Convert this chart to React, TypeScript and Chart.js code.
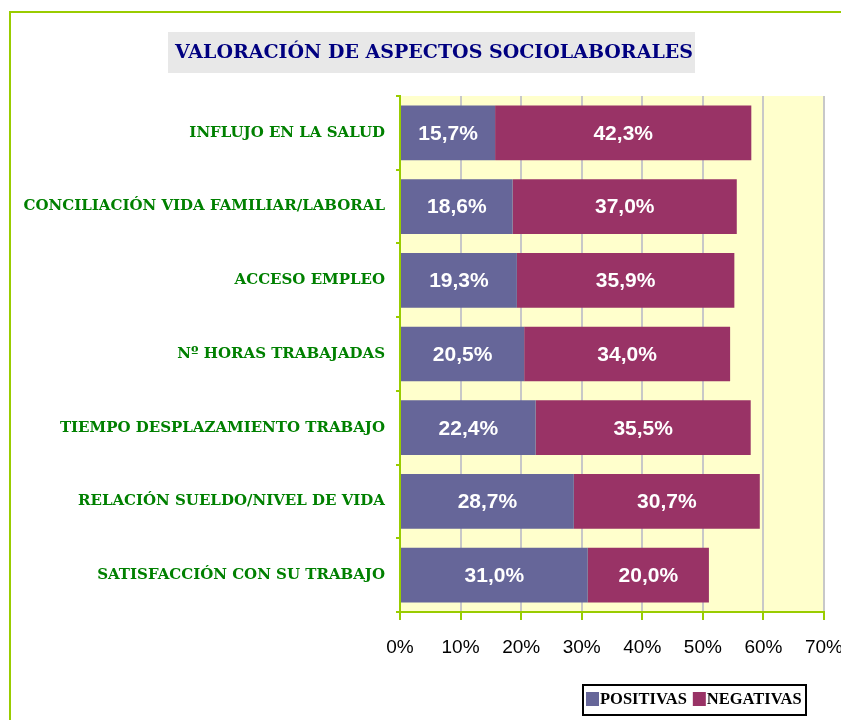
import React, { useEffect, useRef } from "react";
import { Chart, registerables } from "chart.js";

Chart.register(...registerables);

const title = "VALORACIÓN DE ASPECTOS SOCIOLABORALES";
const categories = [
  "INFLUJO EN LA SALUD",
  "CONCILIACIÓN VIDA FAMILIAR/LABORAL",
  "ACCESO EMPLEO",
  "Nº HORAS TRABAJADAS",
  "TIEMPO DESPLAZAMIENTO TRABAJO",
  "RELACIÓN SUELDO/NIVEL DE VIDA",
  "SATISFACCIÓN CON SU TRABAJO",
];
const seriesNames = ["POSITIVAS", "NEGATIVAS"];
const positivas = [15.7, 18.6, 19.3, 20.5, 22.4, 28.7, 31.0];
const negativas = [42.3, 37.0, 35.9, 34.0, 35.5, 30.7, 20.0];
const xTicks = [0, 10, 20, 30, 40, 50, 60, 70];

const COL_POS = "#666699";
const COL_NEG = "#993366";
const GREEN_LINE = "#99CC00";

const fmt = (v: number) => v.toFixed(1).replace(".", ",") + "%";

export default function App() {
  const ref = useRef<HTMLCanvasElement | null>(null);

  useEffect(() => {
    const canvas = ref.current;
    if (!canvas) return;

    const decor = {
      id: "decor",
      beforeDraw(chart: any) {
        const { ctx, chartArea } = chart;
        ctx.save();
        ctx.fillStyle = "#ffffff";
        ctx.fillRect(0, 0, chart.width, chart.height);
        ctx.fillStyle = "#FFFFCC";
        ctx.fillRect(chartArea.left, chartArea.top, chartArea.right - chartArea.left, chartArea.bottom - chartArea.top);
        // outer frame
        ctx.strokeStyle = GREEN_LINE;
        ctx.lineWidth = 2;
        ctx.beginPath();
        ctx.moveTo(10, chart.height);
        ctx.lineTo(10, 12);
        ctx.lineTo(chart.width, 12);
        ctx.stroke();
        ctx.restore();
      },
      afterDatasetsDraw(chart: any) {
        const { ctx } = chart;
        ctx.save();
        ctx.font = "bold 21px 'Liberation Sans', Arial, sans-serif";
        ctx.fillStyle = "#ffffff";
        ctx.textAlign = "center";
        ctx.textBaseline = "middle";
        chart.data.datasets.forEach((ds: any, di: number) => {
          const meta = chart.getDatasetMeta(di);
          meta.data.forEach((bar: any, i: number) => {
            const cx = (bar.x + bar.base) / 2;
            ctx.fillText(fmt(ds.data[i]), cx, bar.y + 1);
          });
        });
        ctx.restore();
      },
      afterDraw(chart: any) {
        const { ctx } = chart;
        ctx.save();
        // title box
        ctx.fillStyle = "#E8E8E8";
        ctx.fillRect(168, 32, 527, 41);
        ctx.fillStyle = "#000080";
        ctx.font = "bold 19px 'DejaVu Serif', serif";
        ctx.textAlign = "center";
        ctx.textBaseline = "middle";
        ctx.fillText(title, 434, 53);
        // legend
        ctx.strokeStyle = "#000000";
        ctx.lineWidth = 2;
        ctx.strokeRect(583, 685, 223, 30);
        ctx.font = "bold 16.5px 'Liberation Serif', 'Times New Roman', serif";
        ctx.textAlign = "left";
        ctx.textBaseline = "middle";
        const ds = chart.data.datasets;
        let x = 586;
        ds.forEach((d: any) => {
          ctx.fillStyle = d.backgroundColor;
          ctx.fillRect(x, 692, 13, 14);
          ctx.fillStyle = "#000000";
          ctx.fillText(d.label, x + 14, 700);
          x += 14 + ctx.measureText(d.label).width + 6;
        });
        ctx.restore();
      },
    };

    const chart = new Chart(canvas, {
      type: "bar",
      data: {
        labels: categories,
        datasets: [
          { label: seriesNames[0], data: positivas, backgroundColor: COL_POS, categoryPercentage: 1, barPercentage: 0.742 },
          { label: seriesNames[1], data: negativas, backgroundColor: COL_NEG, categoryPercentage: 1, barPercentage: 0.742 },
        ],
      },
      options: {
        indexAxis: "y",
        responsive: false,
        animation: false,
        layout: { padding: { top: 96, left: 10, right: 17, bottom: 0 } },
        plugins: {
          legend: { display: false },
          title: { display: false },
          tooltip: { enabled: false },
        },
        scales: {
          x: {
            stacked: true,
            min: 0,
            max: 70,
            afterBuildTicks: (scale: any) => {
              scale.ticks = xTicks.map((v) => ({ value: v }));
            },
            afterFit: (scale: any) => {
              scale.height = 108;
              scale.paddingLeft = 0;
              scale.paddingRight = 0;
            },
            grid: {
              color: "#C8C8C8",
              lineWidth: 2,
              tickColor: GREEN_LINE,
              tickLength: 8,
              drawTicks: true,
            },
            border: { color: GREEN_LINE, width: 2 },
            ticks: {
              padding: 16,
              color: "#000000",
              font: { family: "'Liberation Sans', Arial, sans-serif", size: 19 },
              callback: (v: any) => v + "%",
            },
          },
          y: {
            stacked: true,
            afterFit: (scale: any) => {
              scale.width = 390;
              scale.paddingTop = 0;
              scale.paddingBottom = 0;
            },
            grid: {
              offset: true,
              drawOnChartArea: false,
              drawTicks: true,
              tickLength: 4,
              tickColor: GREEN_LINE,
              lineWidth: 2,
            },
            border: { color: GREEN_LINE, width: 2 },
            ticks: {
              padding: 11,
              color: "#008000",
              font: { family: "'DejaVu Serif', serif", size: 15, weight: "bold" },
            },
          },
        },
      },
      plugins: [decor],
    });

    return () => chart.destroy();
  }, []);

  return (
    <div style={{ position: "fixed", left: 0, top: 0, width: 841, height: 720 }}>
      <canvas ref={ref} width={841} height={720} style={{ width: 841, height: 720, display: "block" }} />
    </div>
  );
}
